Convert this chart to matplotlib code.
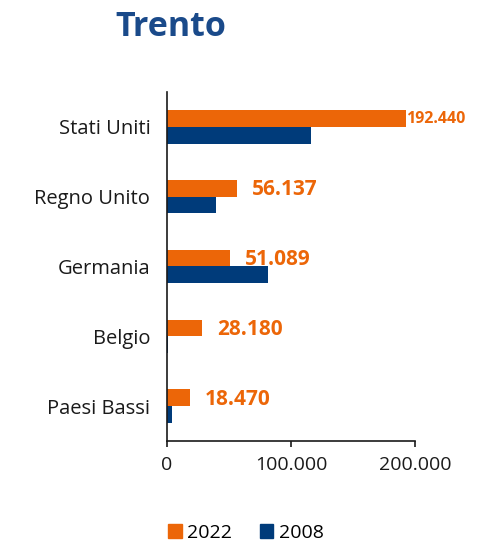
import numpy as np
import matplotlib
matplotlib.use('Agg')
from matplotlib import pyplot as plt
from matplotlib.patches import Patch

# data
countries = ['Stati Uniti', 'Regno Unito', 'Germania', 'Belgio', 'Paesi Bassi']
val_2022 = [192440, 56137, 51089, 28180, 18470]
val_2008 = [116500, 39500, 81500, 900, 4000]
labels_2022 = ['192.440', '56.137', '51.089', '28.180', '18.470']
xticks = [0, 100000, 200000]
xticklabels = ['0', '100.000', '200.000']

ORANGE = '#EC6608'
BLUE = '#003B7A'

plt.rcParams['font.family'] = ['Open Sans', 'DejaVu Sans']

fig = plt.figure(figsize=(4.79, 5.42), dpi=100)
ax = fig.add_axes([167/479, 1 - 441/542, (415 - 167)/479, 349/542])

y = np.arange(len(countries))
h = 0.24
ax.barh(y - h/2, val_2022, height=h, color=ORANGE, label='2022')
ax.barh(y + h/2, val_2008, height=h, color=BLUE, label='2008')

# value labels for 2022 (the first one sits right against the bar)
for i, (v, t) in enumerate(zip(val_2022, labels_2022)):
    if i == 0:
        ax.text(v + 700, y[i] - h/2, t, color=ORANGE, fontsize=11.5,
                fontweight='bold', va='center', ha='left', clip_on=False)
    else:
        ax.text(v + 12000, y[i] - h/2 + 0.02, t, color=ORANGE, fontsize=15,
                fontweight='bold', va='center', ha='left', clip_on=False)

ax.set_ylim(len(countries) - 0.5, -0.5)
ax.set_xlim(0, 200000)
ax.set_yticks(y)
ax.set_yticklabels(countries, fontsize=14.5, color='#1a1a1a')
ax.set_xticks(xticks)
ax.set_xticklabels(xticklabels, fontsize=14, color='#1a1a1a')
ax.tick_params(axis='y', length=0, pad=12)
ax.tick_params(axis='x', length=4, width=1.2, color='#1a1a1a', pad=7)

for s in ['top', 'right']:
    ax.spines[s].set_visible(False)
for s in ['left', 'bottom']:
    ax.spines[s].set_color('#1a1a1a')
    ax.spines[s].set_linewidth(1.2)

fig.text(171/479, 1 - 27/542, 'Trento', color='#1A4A8A', fontsize=24.5,
         fontweight='bold', ha='center', va='center')

handles = [Patch(color=ORANGE, label='2022'), Patch(color=BLUE, label='2008')]
fig.legend(handles=handles, loc='center', bbox_to_anchor=(246/479, 1 - 533/542),
           ncol=2, frameon=False, fontsize=14, handlelength=0.7,
           handleheight=0.7, handletextpad=0.3, columnspacing=1.4)

fig.savefig('out.png', dpi=100)
